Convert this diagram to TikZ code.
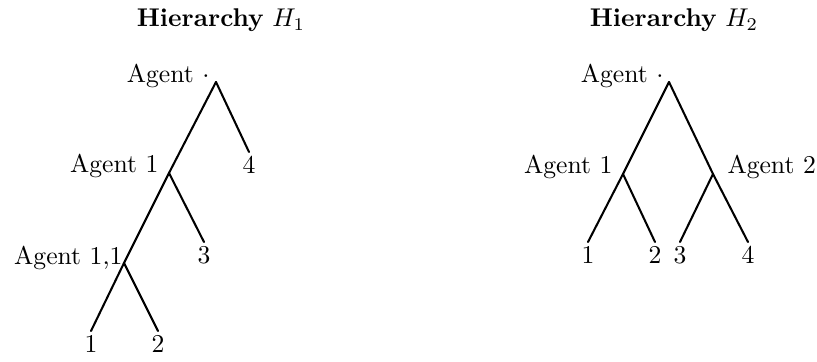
\documentclass[tikz,border=0pt]{standalone}
\usepackage{amsmath}

\tikzset{
  branch/.style={line width=0.8pt,line cap=round,line join=round},
  agent/.style={inner sep=0pt,anchor=base east},
  agentr/.style={inner sep=0pt,anchor=base west},
  leaf/.style={inner sep=1.5pt,anchor=north},
  heading/.style={inner sep=0pt,anchor=base}
}

\begin{document}
\begin{tikzpicture}[x=0.39pt,y=-0.39pt]
\useasboundingbox (0,0) rectangle (817,362);

% Hierarchy H_1: a chain of agents.
\node[heading] (t1) at (221,27) {\textbf{Hierarchy} $H_1$};

\coordinate (h1r)   at (216,82);
\coordinate (h1a1)  at (169,173);
\coordinate (h1a11) at (124,263);

\node[leaf] (h1l4) at (249,152) {4};
\node[leaf] (h1l3) at (204,242) {3};
\node[leaf] (h1l1) at (91,331)  {1};
\node[leaf] (h1l2) at (158,331) {2};

\draw[branch] (h1r)--(h1a1)--(h1a11)--(h1l1.north);
\draw[branch] (h1r)--(h1l4.north);
\draw[branch] (h1a1)--(h1l3.north);
\draw[branch] (h1a11)--(h1l2.north);

\node[agent] (h1rl)   at (210,83)  {Agent $\cdot$};
\node[agent] (h1a1l)  at (159,173) {Agent 1};
\node[agent] (h1a11l) at (123,265) {Agent 1,1};

% Hierarchy H_2: a balanced split.
\node[heading] (t2) at (674,27) {\textbf{Hierarchy} $H_2$};

\coordinate (h2r)  at (669,82);
\coordinate (h2a1) at (623,174);
\coordinate (h2a2) at (713,174);

\node[leaf] (h2l1) at (588,242) {1};
\node[leaf] (h2l2) at (655,242) {2};
\node[leaf] (h2l3) at (680,242) {3};
\node[leaf] (h2l4) at (748,242) {4};

\draw[branch] (h2r)--(h2a1)--(h2l1.north);
\draw[branch] (h2r)--(h2a2)--(h2l4.north);
\draw[branch] (h2a1)--(h2l2.north);
\draw[branch] (h2a2)--(h2l3.north);

\node[agent]  (h2rl)  at (664,83)  {Agent $\cdot$};
\node[agent]  (h2a1l) at (613,174) {Agent 1};
\node[agentr] (h2a2l) at (727,174) {Agent 2};
\end{tikzpicture}
\end{document}
